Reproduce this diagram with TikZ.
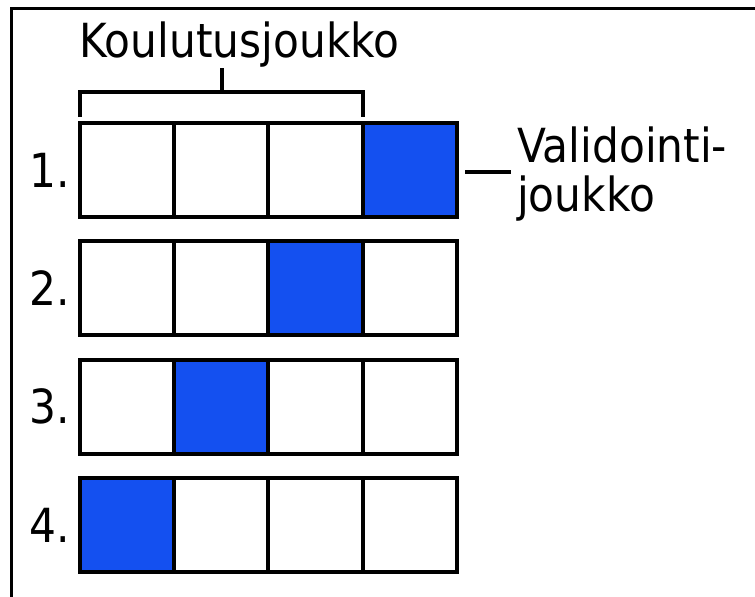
\documentclass[tikz,border=0pt]{standalone}
\usepackage{fontspec}
\setmainfont{DejaVu Sans}[FakeStretch=0.9]
\definecolor{valblue}{RGB}{20,80,240}
\begin{document}
\begin{tikzpicture}[x=1pt,y=-1pt,
  cell/.style={draw=black,line width=4pt,fill=white,minimum width=94.3pt,minimum height=94pt,inner sep=0pt,outer sep=0pt},
  valcell/.style={cell,fill=valblue},
  lbl/.style={font=\fontsize{47}{49}\selectfont,inner sep=0pt,anchor=base west},
  ln/.style={line width=4pt}]
\useasboundingbox (0,0) rectangle (755,597);
\fill[white] (0,0) rectangle (755,597);
% frame
\draw[line width=3.5pt] (11.5,600) -- (11.5,8.5) -- (760,8.5);
% cells
\foreach \r/\y in {1/170,2/288.3,3/406.7,4/525}{
  \pgfmathtruncatemacro{\v}{5-\r}
  \foreach \c in {1,2,3,4}{
    \pgfmathsetmacro{\xx}{80+94.25*(\c-0.5)}
    \ifnum\c=\v
      \node[valcell] (r\r c\c) at (\xx,\y) {};
    \else
      \node[cell] (r\r c\c) at (\xx,\y) {};
    \fi
  }
}
% row numbers
\node[lbl] (n1) at (29,187) {1.};
\node[lbl] (n2) at (29,305) {2.};
\node[lbl] (n3) at (29,423) {3.};
\node[lbl] (n4) at (29,542) {4.};
% training set label and bracket
\node[lbl] (train) at (79,57) {Koulutusjoukko};
\coordinate (bl0) at (80,117);
\coordinate (bl) at (80,92);
\coordinate (br) at (363,92);
\coordinate (br0) at (363,117);
\coordinate (bm) at (222,92);
\coordinate (bt) at (222,68);
\draw[ln] (bl0) -- (bl) -- (br) -- (br0);
\draw[ln] (bm) -- (bt);
% validation label
\node[lbl] (val1) at (517,162) {Validointi-};
\node[lbl] (val2) at (517,211) {joukko};
\coordinate (vl) at (511,172);
\draw[ln] ([xshift=8pt]r1c4.east |- vl) -- (vl);
\end{tikzpicture}
\end{document}
